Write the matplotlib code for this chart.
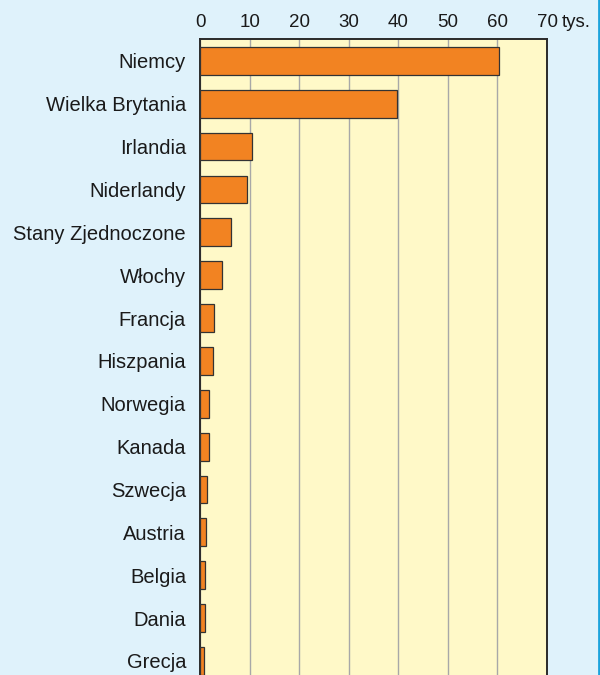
import matplotlib.pyplot as plt
from matplotlib.lines import Line2D

countries = ["Niemcy", "Wielka Brytania", "Irlandia", "Niderlandy", "Stany Zjednoczone",
             "Włochy", "Francja", "Hiszpania", "Norwegia", "Kanada", "Szwecja",
             "Austria", "Belgia", "Dania", "Grecja"]
values = [60.3, 39.8, 10.5, 9.5, 6.3, 4.4, 2.8, 2.6, 1.9, 1.75, 1.35, 1.25, 1.0, 0.95, 0.9]
ticks = [0, 10, 20, 30, 40, 50, 60, 70]

plt.rcParams['font.family'] = ['Liberation Sans', 'DejaVu Sans']

fig = plt.figure(figsize=(6, 6.75), dpi=100, facecolor='#dff2fb')
ax = fig.add_axes([200 / 600, 0, 347 / 600, 1 - 39 / 675])
ax.set_facecolor('#fff9c8')

pos = list(range(len(countries)))
ax.barh(pos, values, height=0.65, color='#f28322', edgecolor='#333333', linewidth=0.9, zorder=3)

ax.set_xlim(0, 70)
ax.set_ylim(14.33, -0.51)
ax.set_xticks(ticks)
ax.set_xticklabels([str(t) for t in ticks])
ax.xaxis.tick_top()
ax.tick_params(axis='x', length=0, pad=6, labelsize=13.5, labelcolor='#1a1a1a')
ax.set_yticks(pos)
ax.set_yticklabels(countries)
ax.tick_params(axis='y', length=0, pad=10, labelsize=14.5, labelcolor='#1a1a1a')
ax.grid(axis='x', color='#a8a8a8', linewidth=1, zorder=1)

for side in ['left', 'top', 'right']:
    ax.spines[side].set_color('#2a2a2a')
    ax.spines[side].set_linewidth(1.4)
ax.spines['bottom'].set_visible(False)

# jednostka przy ostatniej podziałce
ax.annotate("tys.", xy=(70, 1), xycoords=('data', 'axes fraction'),
            xytext=(10.5, 6), textcoords='offset points', ha='left', va='bottom',
            fontsize=13.5, color='#1a1a1a')

# niebieska krawędź po prawej
fig.add_artist(Line2D([0.9975, 0.9975], [0, 1], transform=fig.transFigure,
                      color='#1ba3dc', linewidth=2))

fig.savefig('out.png', dpi=100, facecolor=fig.get_facecolor())
